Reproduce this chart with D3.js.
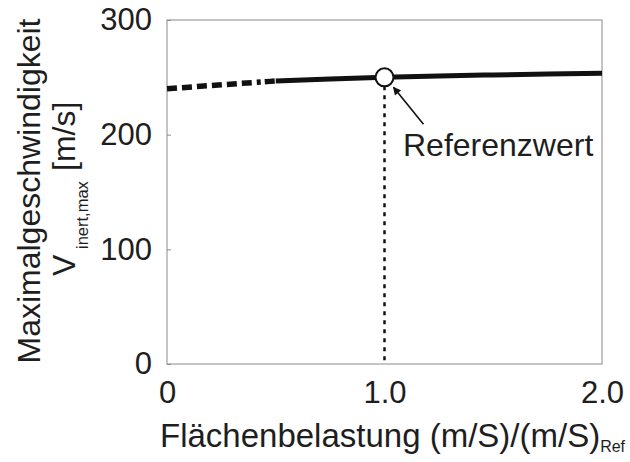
<!DOCTYPE html>
<html>
<head>
<meta charset="utf-8">
<script src="https://cdn.jsdelivr.net/npm/d3@7"></script>
<style>
body { margin: 0; background: #fff; }
text { font-family: "Liberation Sans", Arial, sans-serif; fill: #1e1e1e; }
</style>
</head>
<body>
<div id="chart"></div>
<script>
// curve
var xDashed = [0, 0.25, 0.5];
var yDashed = [240, 243.5, 246.8];
var xSolid = [0.5, 0.75, 1.0, 1.25, 1.5, 1.75, 2.0];
var ySolid = [246.8, 248.6, 250, 251.2, 252.1, 252.9, 253.5];
var refPoint = [1.0, 250];
var xTicks = [0, 1.0, 2.0];
var xTickLabels = ["0", "1.0", "2.0"];
var yTicks = [0, 100, 200, 300];

var width = 630, height = 462;
var margin = {top: 20, right: 28, bottom: 98, left: 167};

var svg = d3.select("#chart").append("svg")
    .attr("width", width)
    .attr("height", height);

var x = d3.scaleLinear().domain([0, 2]).range([margin.left, width - margin.right]);
var y = d3.scaleLinear().domain([0, 300]).range([height - margin.bottom, margin.top]);

// frame
svg.append("rect")
    .attr("x", x(0)).attr("y", y(300))
    .attr("width", x(2) - x(0)).attr("height", y(0) - y(300))
    .attr("fill", "none").attr("stroke", "#8a8a8a").attr("stroke-width", 1);

// y axis
var yAxis = svg.append("g")
    .attr("transform", "translate(" + x(0) + ",0)")
    .call(d3.axisLeft(y).tickValues(yTicks).tickSize(-4).tickPadding(15));
yAxis.select(".domain").remove();
yAxis.selectAll("line").attr("stroke", "#8a8a8a");
yAxis.selectAll("text").attr("font-size", 31).attr("font-family", "Liberation Sans, Arial, sans-serif").attr("fill", "#1e1e1e");

// x axis
var xAxis = svg.append("g")
    .attr("transform", "translate(0," + y(0) + ")")
    .call(d3.axisBottom(x).tickValues(xTicks).tickFormat(function(d, i){ return xTickLabels[i]; }).tickSize(0).tickPadding(17));
xAxis.select(".domain").remove();
xAxis.selectAll("text").attr("font-size", 31).attr("font-family", "Liberation Sans, Arial, sans-serif").attr("fill", "#1e1e1e");

var line = d3.line()
    .x(function(d){ return x(d[0]); })
    .y(function(d){ return y(d[1]); })
    .curve(d3.curveMonotoneX);

// vertical dotted line at the reference value
svg.append("line")
    .attr("x1", x(refPoint[0])).attr("x2", x(refPoint[0]))
    .attr("y1", y(refPoint[1]) + 9).attr("y2", y(0))
    .attr("stroke", "#111").attr("stroke-width", 2.5)
    .attr("stroke-dasharray", "4,5");

svg.append("path")
    .datum(d3.zip(xDashed, yDashed))
    .attr("d", line)
    .attr("fill", "none").attr("stroke", "#111").attr("stroke-width", 5.5)
    .attr("stroke-dasharray", "10,5,10,5,10,5,10,5,10,5,10,5,4,4");

svg.append("path")
    .datum(d3.zip(xSolid, ySolid))
    .attr("d", line)
    .attr("fill", "none").attr("stroke", "#111").attr("stroke-width", 5);

svg.append("circle")
    .attr("cx", x(refPoint[0])).attr("cy", y(refPoint[1]))
    .attr("r", 9)
    .attr("fill", "#fff").attr("stroke", "#111").attr("stroke-width", 2);

// arrow + label
svg.append("defs").append("marker")
    .attr("id", "head")
    .attr("viewBox", "0 0 10 10")
    .attr("refX", 9).attr("refY", 5)
    .attr("markerWidth", 9).attr("markerHeight", 8)
    .attr("markerUnits", "userSpaceOnUse")
    .attr("orient", "auto")
    .append("path").attr("d", "M0,0 L10,5 L0,10 Z").attr("fill", "#111");

svg.append("line")
    .attr("x1", x(refPoint[0]) + 39).attr("y1", y(refPoint[1]) + 47)
    .attr("x2", x(refPoint[0]) + 9).attr("y2", y(refPoint[1]) + 10)
    .attr("stroke", "#111").attr("stroke-width", 1.6)
    .attr("marker-end", "url(#head)");

svg.append("text")
    .attr("x", 403).attr("y", 156)
    .attr("font-size", 32)
    .text("Referenzwert");

// x title
var xt = svg.append("text")
    .attr("x", 160).attr("y", 447)
    .attr("font-size", 33);
xt.append("tspan").text("Flächenbelastung (m/S)/(m/S)");
xt.append("tspan").attr("dy", 5).attr("font-size", 16).text("Ref");

// y title (rotated, x runs upward from the plot middle)
var yt = svg.append("g")
    .attr("transform", "translate(0,191) rotate(-90)");
yt.append("text")
    .attr("x", 0).attr("y", 40)
    .attr("text-anchor", "middle")
    .attr("font-size", 32)
    .text("Maximalgeschwindigkeit");
yt.append("text")
    .attr("x", -85).attr("y", 75)
    .attr("font-size", 32)
    .text("V");
yt.append("text")
    .attr("x", -58).attr("y", 88)
    .attr("font-size", 16.5)
    .text("inert,max");
yt.append("text")
    .attr("x", 20).attr("y", 75)
    .attr("font-size", 32)
    .text("[m/s]");
</script>
</body>
</html>
